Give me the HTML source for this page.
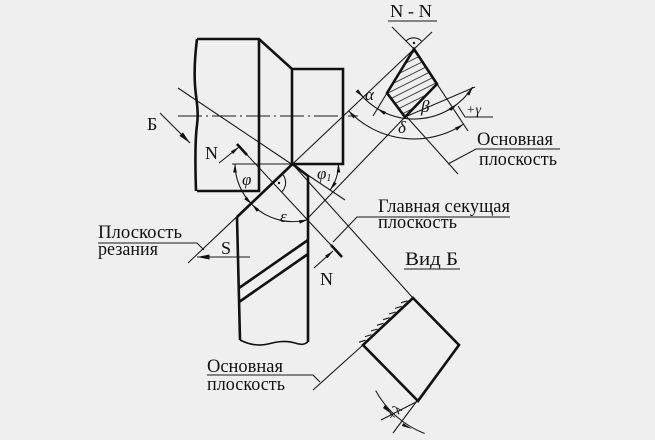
<!DOCTYPE html>
<html><head><meta charset="utf-8"><style>html,body{margin:0;padding:0;background:#efefef}svg{display:block}</style></head>
<body>
<svg width="655" height="440" viewBox="0 0 655 440" xmlns="http://www.w3.org/2000/svg">
<defs>
<marker id="a" viewBox="0 0 10 4" refX="10" refY="2" markerWidth="9" markerHeight="3.6" markerUnits="userSpaceOnUse" orient="auto-start-reverse"><path d="M0,0 L10,2 L0,4 z" fill="#111"/></marker>
<marker id="b" viewBox="0 0 10 4" refX="10" refY="2" markerWidth="14" markerHeight="5" markerUnits="userSpaceOnUse" orient="auto-start-reverse"><path d="M0,0 L10,2 L0,4 z" fill="#111"/></marker>
<clipPath id="q"><polygon points="414,49 437,84 405,117 387,93"/></clipPath>
</defs>
<rect width="655" height="440" fill="#efefef"/>

<g fill="none" stroke="#1a1a1a" stroke-width="1.1">
<path d="M188,263 L432,32"/>
<path d="M178,88 L345,200"/>
<path d="M292.5,164 L413,298"/>
<path d="M237,144 L342,257"/>
<path d="M308,218 L406,116"/>
<path d="M406,116 L458,174"/>
<path d="M392,27 L414,49 L468,131"/>
<path d="M405,117 L475,87"/>
<path d="M387,93 L373,116"/>
<path d="M232,164 L292,164"/>
<path d="M178,116 L358,116" stroke-dasharray="24 4 2 4"/>
<path d="M160,113 L190,143" marker-end="url(#b)"/>
<path d="M250,257 L197,257" marker-end="url(#b)"/>
<path d="M219,163 L239,147" marker-end="url(#a)"/>
<path d="M314,268 L333,251" marker-end="url(#a)"/>
<path d="M313,390 L363,345"/>
<path d="M455,350 L393,433"/>
<path d="M418,401 L381,420"/>
<!-- leaders / underlines -->
<path d="M560,149 L476,149 L448,164"/>
<path d="M98,243 L197,243 L204,250"/>
<path d="M510,217 L357,217 L333,242"/>
<path d="M207,375 L313,375 L320,382"/>
<path d="M404,269 L460,269"/>
<path d="M388,21 L437,21"/>
<path d="M493,117 L465,117 L458,106"/>
<!-- arcs main view -->
<path d="M251.8,204.2 A57.5,57.5 0 0 1 235,163.5" marker-start="url(#a)" marker-end="url(#a)"/>
<path d="M251.8,204.2 A57.5,57.5 0 0 0 308,219.6" marker-start="url(#a)" marker-end="url(#a)"/>
<path d="M330.2,189.9 A46,46 0 0 0 338.5,163.5" marker-start="url(#a)" marker-end="url(#a)"/>
<path d="M282,173.6 A13,13 0 0 1 281.5,192.1"/>
<!-- NN arcs -->
<path d="M406,41 A11,11 0 0 1 421.5,41"/>
<path d="M348.5,110.7 A90,90 0 0 0 463.4,124.2" marker-start="url(#a)" marker-end="url(#a)"/>
<path d="M358.8,92.1 A70,70 0 0 0 472.7,87.1"/>
<path d="M358.8,92.1 A70,70 0 0 0 363,97" marker-end="url(#a)"/>
<path d="M383.3,111.9 A70,70 0 0 1 377.4,108.7" marker-end="url(#a)"/>
<path d="M446.9,110.8 A70,70 0 0 0 457.1,104.2" marker-end="url(#a)"/>
<path d="M467.6,94 A70,70 0 0 0 472.7,87.1" marker-end="url(#a)"/>
<!-- lambda arc -->
<path d="M375.7,390.6 A95,95 0 0 0 424.6,433.5"/>
<!-- hatch ticks Vid B -->
<path d="M365.5,340.2 L359,342.2 M371.5,334.6 L365,336.6 M377.5,329 L371,331 M383.5,323.3 L377,325.3 M389.5,317.7 L383,319.7 M395.5,312 L389,314 M401.5,306.4 L395,308.4 M407.5,300.8 L401,302.8"/>
</g>

<!-- lambda arrowheads -->
<g fill="#111">
<polygon points="393,415 383,408 385,405"/>
<polygon points="412,429 402,426 403,423"/>
</g>

<!-- hatching -->
<g clip-path="url(#q)" stroke="#333" stroke-width="0.9">
<path d="M380,69 L445,36.5 M380,76 L445,43.5 M380,83 L445,50.5 M380,90 L445,57.5 M380,97 L445,64.5 M380,104 L445,71.5 M380,111 L445,78.5 M380,118 L445,85.5 M380,125 L445,92.5 M380,132 L445,99.5 M380,139 L445,106.5"/>
</g>

<g fill="#111" stroke="none">
<circle cx="279" cy="183" r="1.2"/>
<circle cx="414" cy="43" r="1.2"/>
</g>

<g fill="none" stroke="#111" stroke-width="2.6" stroke-linejoin="miter">
<path d="M197,39 L259,39 L292,69 L343,69 L343,164 L292,164"/>
<path d="M259,39 L259,191 L197,191"/>
<path d="M197,39 C195,55 194,70 195,85 S199,110 197,125 S195,160 196,191"/>
<path d="M292,69 L292,164"/>
<path d="M292.5,164 L237,217"/>
<path d="M292.5,164 L308,176 L308,342"/>
<path d="M237,217 L240,340"/>
<path d="M240,340 C250,345 260,346 268,344 S285,340 295,343 S305,343 308,342" stroke-width="1.6"/>
<path d="M239,288 L308,240"/>
<path d="M239,302 L308,254"/>
<polygon points="414,49 437,84 405,117 387,93"/>
<polygon points="413,298 459,345 418,401 363,345"/>
<path d="M237,144 L247,155"/>
<path d="M331,245 L342,257"/>
</g>

<g font-family="'Liberation Serif', 'DejaVu Serif', serif" fill="#111">
<text x="147" y="130" font-size="18">Б</text>
<text x="205" y="159" font-size="18">N</text>
<text x="320" y="285" font-size="18">N</text>
<text x="221" y="254" font-size="18">S</text>
<text x="390" y="17" font-size="18" textLength="42" lengthAdjust="spacingAndGlyphs">N - N</text>
<text x="477" y="145" font-size="19" textLength="76" lengthAdjust="spacingAndGlyphs">Основная</text>
<text x="479" y="165" font-size="19" textLength="78" lengthAdjust="spacingAndGlyphs">плоскость</text>
<text x="378" y="212" font-size="19" textLength="132" lengthAdjust="spacingAndGlyphs">Главная секущая</text>
<text x="378" y="228" font-size="19" textLength="79" lengthAdjust="spacingAndGlyphs">плоскость</text>
<text x="405" y="265" font-size="19" textLength="53" lengthAdjust="spacingAndGlyphs">Вид  Б</text>
<text x="98" y="238" font-size="19" textLength="84" lengthAdjust="spacingAndGlyphs">Плоскость</text>
<text x="98" y="255" font-size="19" textLength="60" lengthAdjust="spacingAndGlyphs">резания</text>
<text x="207" y="372" font-size="19" textLength="76" lengthAdjust="spacingAndGlyphs">Основная</text>
<text x="207" y="390" font-size="19" textLength="78" lengthAdjust="spacingAndGlyphs">плоскость</text>
<g font-style="italic" font-size="17">
<text x="242" y="185">φ</text>
<text x="317" y="179">φ<tspan font-size="10" dy="2">1</tspan></text>
<text x="280" y="222">ε</text>
<text x="365" y="100">α</text>
<text x="421" y="112">β</text>
<text x="398" y="133">δ</text>
<text x="466" y="114" font-size="14">+γ</text>
<text x="0" y="0" font-size="14" transform="translate(393,422) rotate(-52)">+λ</text>
</g>
</g>
</svg>
</body></html>
